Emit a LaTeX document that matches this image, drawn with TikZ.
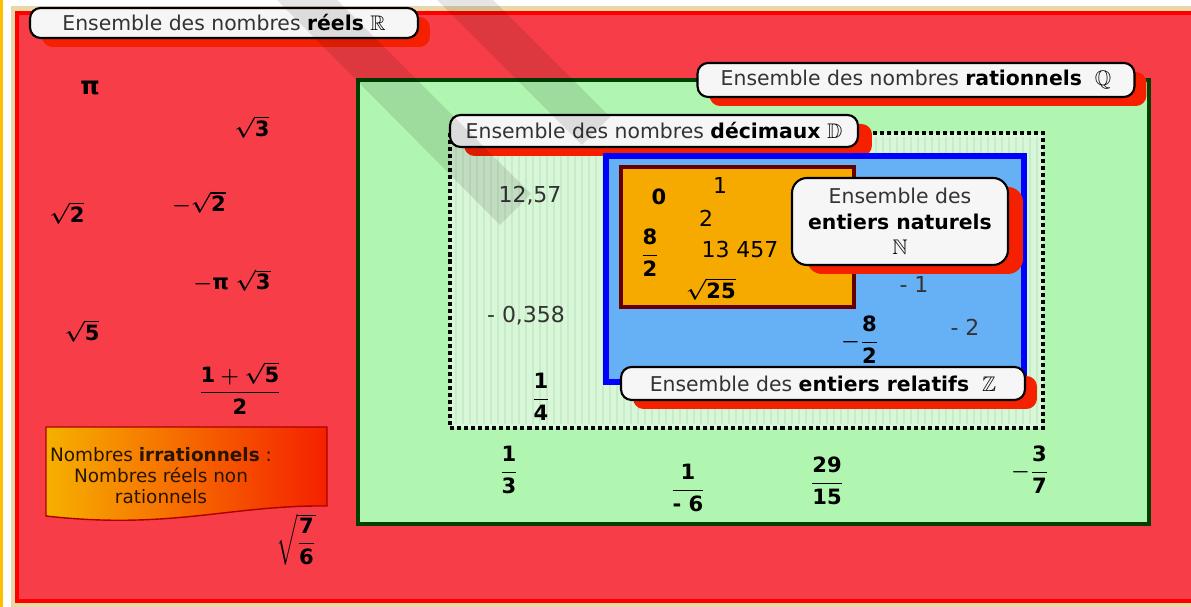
\documentclass[tikz,border=0pt]{standalone}
\usepackage{fontspec}
\setmainfont{DejaVu Sans}
\usepackage{amsmath,amssymb}
\usetikzlibrary{shadows}
\definecolor{redfill}{RGB}{247,62,72}
\definecolor{redborder}{RGB}{255,0,0}
\definecolor{shadowred}{RGB}{245,32,0}
\definecolor{beige}{RGB}{232,216,168}
\definecolor{yellowline}{RGB}{255,192,0}
\definecolor{greenfill}{RGB}{176,246,176}
\definecolor{greenborder}{RGB}{0,64,0}
\definecolor{decfill}{RGB}{216,246,216}
\definecolor{decstripe}{RGB}{200,236,200}
\definecolor{bluefill}{RGB}{102,176,246}
\definecolor{blueborder}{RGB}{0,0,255}
\definecolor{orangefill}{RGB}{246,170,0}
\definecolor{orangeborder}{RGB}{102,0,0}
\definecolor{labelfill}{RGB}{246,246,246}
\definecolor{labelgray}{RGB}{51,51,51}
\definecolor{irrA}{RGB}{246,176,0}
\definecolor{irrB}{RGB}{245,32,0}
\definecolor{irrborder}{RGB}{170,0,0}
\definecolor{irrtext}{RGB}{40,20,0}
\newcommand\kw[1]{\textcolor{black}{\textbf{#1}}}
\newcommand\setsym[1]{\textcolor{black}{\large$\mathbb{#1}$}}
\tikzset{
  setlabel/.style={draw=black, line width=1.2pt, fill=labelfill, rounded corners=6pt,
    text=labelgray, inner sep=0pt, align=center},
  lblshadow/.style={general shadow={fill=shadowred, shadow xshift=#1, shadow yshift=-0.18cm}},
  lblshadow/.default=0.24cm,
  num/.style={text=labelgray, inner sep=0pt, font=\fontsize{12.5}{14}\selectfont},
  sym/.style={text=black, inner sep=0pt, font=\boldmath\fontsize{12}{14}\selectfont},
  stripe/.style={draw=decstripe, line width=0.8pt},
  band/.style={fill=black, fill opacity=0.1}
}
\begin{document}
\begin{tikzpicture}[x=0.02cm,y=-0.02cm, font=\fontsize{11.6}{13.5}\selectfont]
\useasboundingbox (0,0) rectangle (1191,607);
\fill[white] (0,0) rectangle (1191,607);
\fill[beige] (11,6) rectangle (1191,607);
\fill[yellowline] (0,0) rectangle (3,607);
% reals
\draw[line width=2.5pt, draw=redborder, fill=redfill] (17,13) rectangle (1205,601);
\node[setlabel, lblshadow, minimum width=7.76cm, minimum height=0.6cm] (lR) at (224,23)
  {Ensemble des nombres \kw{réels} \setsym{R}};
% rationals
\draw[line width=2.4pt, draw=greenborder, fill=greenfill] (358,80) rectangle (1149,524);
\node[setlabel, lblshadow, minimum width=8.74cm, minimum height=0.68cm] (lQ) at (916,80)
  {Ensemble des nombres \kw{rationnels}\ \ \setsym{Q}};
% decimals
\fill[decfill] (450,133) rectangle (1043,428);
\foreach \x in {456,463,...,1040} \draw[stripe] (\x,137) -- (\x,424);
\draw[line width=2.3pt, dash pattern=on 2.3pt off 1.7pt] (450,133) rectangle (1043,428);
\node[setlabel, lblshadow=0.28cm, minimum width=8.16cm, minimum height=0.64cm] (lD) at (654,131)
  {Ensemble des nombres \kw{décimaux} \setsym{D}};
% integers
\draw[line width=2.9pt, draw=blueborder, fill=bluefill] (606,156) rectangle (1024,382);
% naturals
\draw[line width=2.8pt, draw=orangeborder, fill=orangefill] (621,167) rectangle (854,307);
\node[setlabel, lblshadow=0.3cm, rounded corners=0.3cm, minimum width=4.32cm, minimum height=1.74cm] (lN) at (900,221.5)
  {Ensemble des\\[1pt]\kw{entiers naturels}\\[1pt]\setsym{N}};
\node[setlabel, lblshadow, minimum width=8.08cm, minimum height=0.66cm] (lZ) at (823,383.5)
  {Ensemble des \kw{entiers relatifs}\ \ \setsym{Z}};
% irrationals
\draw[draw=irrborder, line width=0.8pt, left color=irrA, right color=irrB]
  (46,427) -- (327,427) -- (327,506) .. controls (230,505) and (170,530) .. (46,516) -- cycle;
\node[text=irrtext, align=center, inner sep=0pt, font=\fontsize{10.5}{12}\selectfont] (irr) at (161,476)
  {Nombres \textbf{irrationnels} :\\Nombres réels non\\rationnels};
% real, non rational
\node[sym, font=\fontsize{14}{16}\selectfont] (pi) at (90,88) {\textbf{π}};
\node[sym] (r3) at (252,127) {$\sqrt{\textbf{3}}$};
\node[sym] (r2) at (67,213) {$\sqrt{\textbf{2}}$};
\node[sym] (mr2) at (199,203) {$-\sqrt{\textbf{2}}$};
\node[sym] (mpir3) at (232,281) {$-$\textbf{π} $\sqrt{\textbf{3}}$};
\node[sym] (r5) at (82,331) {$\sqrt{\textbf{5}}$};
\node[sym] (phi) at (240,388) {$\dfrac{\textbf{1}+\sqrt{\textbf{5}}}{\textbf{2}}$};
\node[sym] (r76) at (296,540) {$\sqrt{\dfrac{\textbf{7}}{\textbf{6}}}$};
% decimals
\node[num] (d1) at (530,196) {12,57};
\node[num] (d2) at (526,316) {- 0,358};
\node[sym] (d3) at (541,397) {$\dfrac{\textbf{1}}{\textbf{4}}$};
% naturals
\node[sym] (n0) at (659,197) {\textbf{0}};
\node[num, text=black] (n1) at (720,186) {1};
\node[num, text=black] (n2) at (706,218) {2};
\node[sym] (n82) at (650,253) {$\dfrac{\textbf{8}}{\textbf{2}}$};
\node[num, text=black] (n13457) at (740,250) {13 457};
\node[sym] (n25) at (711,289) {$\sqrt{\textbf{25}}$};
% integers
\node[num] (z1) at (914,284) {- 1};
\node[sym] (z82) at (860,340) {$-\dfrac{\textbf{8}}{\textbf{2}}$};
\node[num] (z2) at (965,327) {- 2};
% rationals
\node[sym] (q13) at (509,470) {$\dfrac{\textbf{1}}{\textbf{3}}$};
\node[sym] (q16) at (688,488) {$\dfrac{\textbf{1}}{\textbf{- 6}}$};
\node[sym] (q2915) at (827,481) {$\dfrac{\textbf{29}}{\textbf{15}}$};
\node[sym] (q37) at (1030,470) {$-\dfrac{\textbf{3}}{\textbf{7}}$};
% diagonal translucent bands
\fill[band] (277,0) -- (337,0) -- (531,194) -- (500,225) -- cycle;
\fill[band] (437,0) -- (493,0) -- (610,117) -- (582,145) -- cycle;
\end{tikzpicture}
\end{document}
